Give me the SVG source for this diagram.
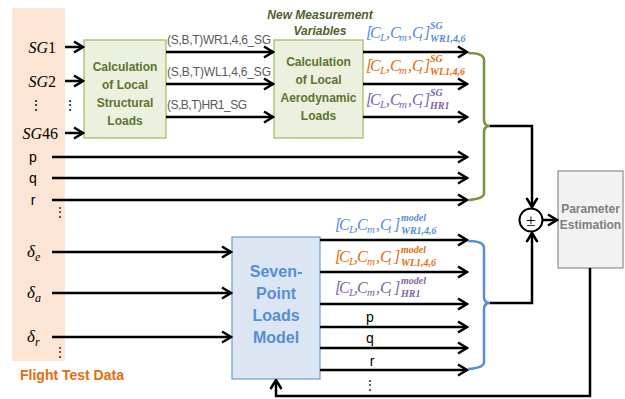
<svg xmlns="http://www.w3.org/2000/svg" width="625" height="399" viewBox="0 0 625 399">
<defs>
<marker id="ah" markerUnits="userSpaceOnUse" markerWidth="12" markerHeight="14" viewBox="0 0 12 14" refX="10.5" refY="7" orient="auto">
<path d="M1.5,1.5 L10.5,7 L1.5,12.5" fill="none" stroke="#000" stroke-width="2.5"/>
</marker>
<style>
.arr{stroke:#000;stroke-width:2.5;fill:none;marker-end:url(#ah)}
.sans{font-family:"Liberation Sans",Arial,sans-serif}
.ser{font-family:"Liberation Serif","Times New Roman",serif}
.bt{font-family:"Liberation Sans",Arial,sans-serif;font-weight:bold;text-anchor:middle}
.lab{font-family:"Liberation Sans",Arial,sans-serif;font-size:12px;fill:#595959}
.mth{font-family:"Liberation Serif","Times New Roman",serif;font-style:italic;font-size:16px}
.sb{font-size:11px}
.ss{font-family:"Liberation Serif","Times New Roman",serif;font-style:italic;font-weight:bold;font-size:10px}
.blu{fill:#558ed5}.org{fill:#e46c0a}.pur{fill:#8064a2}
</style>
</defs>
<rect id="band" x="12" y="8" width="53" height="353" fill="#fde5d5"/>
<g id="inputs">
<text class="ser" x="56" y="53" font-size="16" text-anchor="end"><tspan font-style="italic">SG</tspan>1</text>
<text class="ser" x="56" y="87" font-size="16" text-anchor="end"><tspan font-style="italic">SG</tspan>2</text>
<text class="ser" x="36" y="110" font-size="14" text-anchor="middle">⋮</text>
<text class="ser" x="70" y="110" font-size="14" text-anchor="middle">⋮</text>
<text class="ser" x="58" y="139" font-size="16" text-anchor="end"><tspan font-style="italic">SG</tspan>46</text>
<text class="sans" x="33" y="162" font-size="14" text-anchor="middle">p</text>
<text class="sans" x="33" y="183" font-size="14" text-anchor="middle">q</text>
<text class="sans" x="33" y="205" font-size="14" text-anchor="middle">r</text>
<text class="ser" x="60" y="216" font-size="12" text-anchor="middle">⋮</text>
<text class="ser" x="27" y="257" font-size="17" font-style="italic">δ<tspan font-size="12" dy="4">e</tspan></text>
<text class="ser" x="27" y="298" font-size="17" font-style="italic">δ<tspan font-size="12" dy="4">a</tspan></text>
<text class="ser" x="27" y="342" font-size="17" font-style="italic">δ<tspan font-size="12" dy="4">r</tspan></text>
<text class="ser" x="60" y="356" font-size="12" text-anchor="middle">⋮</text>
<text class="sans" x="20" y="380" font-size="14" font-weight="bold" fill="#e46c0a">Flight Test Data</text>
</g>
<g id="structural">
<rect x="84" y="40" width="82" height="98" fill="#ebf1de" stroke="#9bbb59" stroke-width="1.2"/>
<text class="bt" font-size="12" fill="#5a7430"><tspan x="125" y="71">Calculation</tspan><tspan x="125" y="89">of Local</tspan><tspan x="125" y="107">Structural</tspan><tspan x="125" y="125">Loads</tspan></text>
</g>
<g id="aero">
<rect x="274" y="40" width="89" height="98" fill="#ebf1de" stroke="#9bbb59" stroke-width="1.2"/>
<text class="bt" font-size="12" fill="#5a7430"><tspan x="318.5" y="66">Calculation</tspan><tspan x="318.5" y="84">of Local</tspan><tspan x="318.5" y="102">Aerodynamic</tspan><tspan x="318.5" y="120">Loads</tspan></text>
<text class="bt" font-size="12" font-style="italic" fill="#4f6228"><tspan x="320" y="19">New Measurement</tspan><tspan x="320" y="35">Variables</tspan></text>
</g>
<g id="seven">
<rect x="232" y="237" width="88" height="142" fill="#dce6f2" stroke="#6d9bd1" stroke-width="1.2"/>
<text class="bt" font-size="16" fill="#558ed5"><tspan x="276" y="277">Seven-</tspan><tspan x="276" y="299">Point</tspan><tspan x="276" y="321">Loads</tspan><tspan x="276" y="343">Model</tspan></text>
</g>
<g id="param">
<rect x="558" y="171" width="65" height="97" fill="#f2f2f2" stroke="#8c8c8c" stroke-width="1.2"/>
<text class="bt" font-size="12" fill="#7f7f7f"><tspan x="590.5" y="213">Parameter</tspan><tspan x="590.5" y="229">Estimation</tspan></text>
</g>
<g id="sum">
<circle cx="531" cy="220" r="11.5" fill="#fff" stroke="#000" stroke-width="2"/>
<text class="ser" x="531" y="226" font-size="17" text-anchor="middle">±</text>
</g>
<g id="connectors">
<line class="arr" x1="65" y1="47" x2="83" y2="47"/>
<line class="arr" x1="65" y1="81" x2="83" y2="81"/>
<line class="arr" x1="65" y1="133" x2="83" y2="133"/>
<line class="arr" x1="166" y1="52" x2="273" y2="52"/>
<line class="arr" x1="166" y1="84" x2="273" y2="84"/>
<line class="arr" x1="166" y1="117" x2="273" y2="117"/>
<line class="arr" x1="363" y1="52" x2="467" y2="52"/>
<line class="arr" x1="363" y1="84" x2="467" y2="84"/>
<line class="arr" x1="363" y1="117" x2="467" y2="117"/>
<line class="arr" x1="52" y1="157" x2="467" y2="157"/>
<line class="arr" x1="52" y1="178" x2="467" y2="178"/>
<line class="arr" x1="52" y1="200" x2="467" y2="200"/>
<line class="arr" x1="52" y1="252" x2="231" y2="252"/>
<line class="arr" x1="52" y1="293" x2="231" y2="293"/>
<line class="arr" x1="52" y1="337" x2="231" y2="337"/>
<line class="arr" x1="320" y1="240" x2="467" y2="240"/>
<line class="arr" x1="320" y1="272" x2="467" y2="272"/>
<line class="arr" x1="320" y1="304" x2="467" y2="304"/>
<line class="arr" x1="320" y1="327" x2="467" y2="327"/>
<line class="arr" x1="320" y1="348" x2="467" y2="348"/>
<line class="arr" x1="320" y1="370" x2="467" y2="370"/>
<path d="M468,53 Q484,53 484,60 L484,120 Q484,126 490,126 Q484,126 484,132 L484,193 Q484,199 468,200" fill="none" stroke="#77933c" stroke-width="2.5"/>
<path d="M468,241 Q484,241 484,248 L484,297 Q484,303 490,303 Q484,303 484,309 L484,362 Q484,368 468,369" fill="none" stroke="#558ed5" stroke-width="2.5"/>
<path class="arr" d="M490,126 L532,126 L532,207"/>
<path class="arr" d="M490,303 L532,303 L532,233"/>
<line class="arr" x1="543" y1="220" x2="557" y2="220"/>
<path class="arr" d="M590,268 L590,396 L276,396 L276,380"/>
<text class="lab" x="167" y="44" textLength="104">(S,B,T)WR1,4,6_SG</text>
<text class="lab" x="167" y="76" textLength="104">(S,B,T)WL1,4,6_SG</text>
<text class="lab" x="167" y="109" textLength="80">(S,B,T)HR1_SG</text>
<text class="mth blu"><tspan x="366" y="38">[</tspan><tspan x="370">C</tspan><tspan class="sb" x="380" y="41">L</tspan><tspan x="386" y="38">,</tspan><tspan x="390">C</tspan><tspan class="sb" x="399" y="41">m</tspan><tspan x="408" y="38">,</tspan><tspan x="412">C</tspan><tspan class="sb" x="419" y="41">l</tspan><tspan x="424" y="38">]</tspan></text>
<text class="ss blu" x="430" y="29">SG</text>
<text class="ss blu" x="430" y="42">WR1,4,6</text>
<text class="mth org"><tspan x="366" y="71">[</tspan><tspan x="370">C</tspan><tspan class="sb" x="380" y="74">L</tspan><tspan x="386" y="71">,</tspan><tspan x="390">C</tspan><tspan class="sb" x="399" y="74">m</tspan><tspan x="408" y="71">,</tspan><tspan x="412">C</tspan><tspan class="sb" x="419" y="74">l</tspan><tspan x="424" y="71">]</tspan></text>
<text class="ss org" x="430" y="62">SG</text>
<text class="ss org" x="430" y="75">WL1,4,6</text>
<text class="mth pur"><tspan x="366" y="105">[</tspan><tspan x="370">C</tspan><tspan class="sb" x="380" y="108">L</tspan><tspan x="386" y="105">,</tspan><tspan x="390">C</tspan><tspan class="sb" x="399" y="108">m</tspan><tspan x="408" y="105">,</tspan><tspan x="412">C</tspan><tspan class="sb" x="419" y="108">l</tspan><tspan x="424" y="105">]</tspan></text>
<text class="ss pur" x="430" y="96">SG</text>
<text class="ss pur" x="430" y="109">HR1</text>
<text class="mth blu"><tspan x="335" y="230">[</tspan><tspan x="339">C</tspan><tspan class="sb" x="349" y="233">L</tspan><tspan x="354" y="230">,</tspan><tspan x="357">C</tspan><tspan class="sb" x="367" y="233">m</tspan><tspan x="376" y="230">,</tspan><tspan x="380">C</tspan><tspan class="sb" x="388" y="233">l</tspan><tspan x="394" y="230">]</tspan></text>
<text class="ss blu" x="401" y="221">model</text>
<text class="ss blu" x="401" y="234">WR1,4,6</text>
<text class="mth org"><tspan x="335" y="262">[</tspan><tspan x="339">C</tspan><tspan class="sb" x="349" y="265">L</tspan><tspan x="354" y="262">,</tspan><tspan x="357">C</tspan><tspan class="sb" x="367" y="265">m</tspan><tspan x="376" y="262">,</tspan><tspan x="380">C</tspan><tspan class="sb" x="388" y="265">l</tspan><tspan x="394" y="262">]</tspan></text>
<text class="ss org" x="401" y="253">model</text>
<text class="ss org" x="401" y="266">WL1,4,6</text>
<text class="mth pur"><tspan x="335" y="293">[</tspan><tspan x="339">C</tspan><tspan class="sb" x="349" y="296">L</tspan><tspan x="354" y="293">,</tspan><tspan x="357">C</tspan><tspan class="sb" x="367" y="296">m</tspan><tspan x="376" y="293">,</tspan><tspan x="380">C</tspan><tspan class="sb" x="388" y="296">l</tspan><tspan x="394" y="293">]</tspan></text>
<text class="ss pur" x="401" y="284">model</text>
<text class="ss pur" x="401" y="297">HR1</text>
<text class="sans" x="370" y="322" font-size="14" text-anchor="middle">p</text>
<text class="sans" x="370" y="343" font-size="14" text-anchor="middle">q</text>
<text class="sans" x="372" y="366" font-size="14" text-anchor="middle">r</text>
<text class="ser" x="370" y="389" font-size="12" text-anchor="middle">⋮</text>
</g>
</svg>
